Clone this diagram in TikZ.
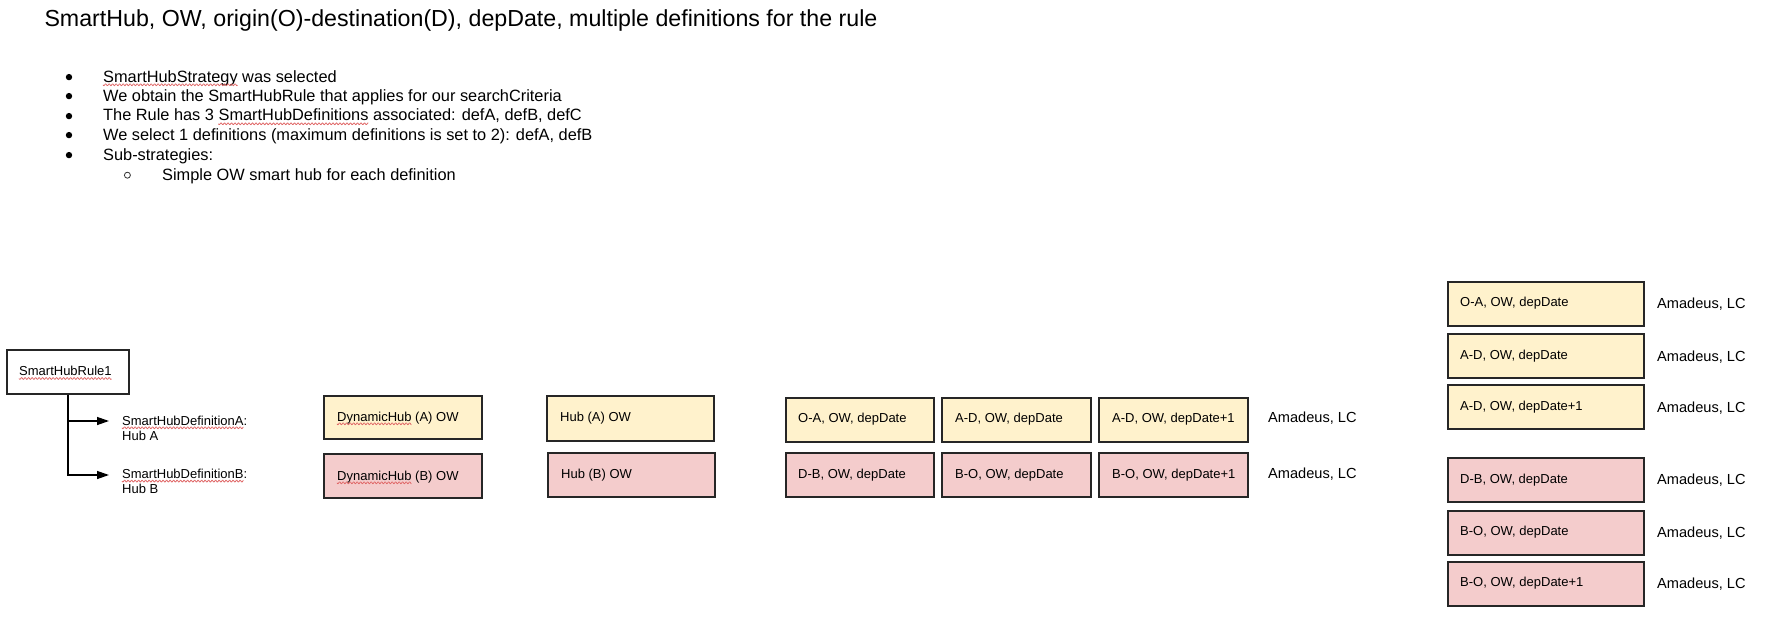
\documentclass[tikz,border=0pt]{standalone}
\usepackage{fontspec}
\setmainfont{Liberation Sans}
\usetikzlibrary{arrows.meta}
\definecolor{lyel}{HTML}{FFF2CC}
\definecolor{lred}{HTML}{F4CCCC}
\definecolor{wavec}{HTML}{E06666}
% #1 node, #2 x offset from node start, #3 length of the wavy underline
\newcommand\wavyat[3]{%
  \draw[spellwave, shift={(#1.base west)}, xshift=#2pt, yshift=-2.8pt]
    plot[domain=0:#3, samples=260] (\x,{0.9*sin(\x*102.86)});}
\begin{document}
\begin{tikzpicture}[x=1pt,y=-1pt,
  box/.style={draw=black!85, line width=1.2pt, inner sep=0pt, minimum height=44pt},
  yelbox/.style={box, fill=lyel},
  redbox/.style={box, fill=lred},
  txt/.style={anchor=base west, inner sep=0pt, font=\fontsize{13}{15.5}\selectfont},
  amad/.style={anchor=base west, inner sep=0pt, font=\fontsize{14.6}{17}\selectfont},
  bul/.style={anchor=base west, inner sep=0pt, font=\fontsize{16.35}{19}\selectfont},
  conn/.style={line width=1.3pt, black},
  arr/.style={conn, -{Triangle[length=12pt,width=8pt]}},
  spellwave/.style={draw=wavec, line width=0.75pt}
]
\useasboundingbox[fill=white] (0,0) rectangle (1778,626);

% title
\node[anchor=base west, inner sep=0pt, font=\fontsize{23.2}{27}\selectfont] (title) at (44.3,26.7)
  {SmartHub, OW, origin(O)-destination(D), depDate, multiple definitions for the rule};

% bullets
\foreach \yy in {82,101,121,140,160} {
  \fill (69,\yy-4.9) circle[radius=3.2];
}
\node[bul] (b1) at (103,82) {SmartHubStrategy was selected};
\node[bul] (b2) at (103,101) {We obtain the SmartHubRule that applies for our searchCriteria};
\node[bul] (b3) at (103,121) {The Rule has 3 SmartHubDefinitions associated: defA, defB, defC};
\node[bul] (b4) at (103,140) {We select 1 definitions (maximum definitions is set to 2): defA, defB};
\node[bul] (b5) at (103,160) {Sub-strategies:};
\draw[line width=0.8pt, black!80] (127.4,175.2) circle[radius=3];
\node[bul] (b6) at (162,180) {Simple OW smart hub for each definition};
\wavyat{b1}{0}{134.5}
\wavyat{b3}{115.4}{149.9}

% rule and definitions
\node[box, minimum width=122pt] (rule) at (68,372) {};
\node[txt] (rulet) at (19,375.7) {SmartHubRule1};
\wavyat{rulet}{0}{92.5}
\coordinate (ta) at (109,421);
\coordinate (tb) at (109,475);
\draw[arr] (rule.south) |- (ta);
\draw[arr] (rule.south) |- (tb);
\node[txt] (defa) at (122,425) {\vtop{\hbox{SmartHubDefinitionA:}\hbox{Hub A}}};
\node[txt] (defb) at (122,478.3) {\vtop{\hbox{SmartHubDefinitionB:}\hbox{Hub B}}};
\wavyat{defa}{0}{121.4}
\wavyat{defb}{0}{121.4}

% dynamic hubs
\node[yelbox, minimum width=158pt, minimum height=43pt] (dha) at (403,417.5) {};
\node[txt] (dhat) at (337,421) {DynamicHub (A) OW};
\node[redbox, minimum width=158pt] (dhb) at (403,476) {};
\node[txt] (dhbt) at (337,480) {DynamicHub (B) OW};
\wavyat{dhat}{0}{74.4}
\wavyat{dhbt}{0}{74.4}

% hubs
\node[yelbox, minimum width=167pt, minimum height=45pt] (hba) at (630.5,418.5) {};
\node[txt] (hbat) at (560,421.7) {Hub (A) OW};
\node[redbox, minimum width=167pt] (hbb) at (631.5,475) {};
\node[txt] (hbbt) at (561,478.7) {Hub (B) OW};

% row A
\node[yelbox, minimum width=148pt] (ra1) at (860,420) {};
\node[yelbox, minimum width=149pt] (ra2) at (1016.5,420) {};
\node[yelbox, minimum width=149pt] (ra3) at (1173.5,420) {};
\node[txt] (ra1t) at (798,422.7) {O-A, OW, depDate};
\node[txt] (ra2t) at (955,422.7) {A-D, OW, depDate};
\node[txt] (ra3t) at (1112,422.7) {A-D, OW, depDate+1};
\node[amad] (ama) at (1268,422.7) {Amadeus, LC};

% row B
\node[redbox, minimum width=148pt] (rb1) at (860,475) {};
\node[redbox, minimum width=149pt] (rb2) at (1016.5,475) {};
\node[redbox, minimum width=149pt] (rb3) at (1173.5,475) {};
\node[txt] (rb1t) at (798,478.3) {D-B, OW, depDate};
\node[txt] (rb2t) at (955,478.3) {B-O, OW, depDate};
\node[txt] (rb3t) at (1112,478.3) {B-O, OW, depDate+1};
\node[amad] (amb) at (1268,478.3) {Amadeus, LC};

% right column
\node[yelbox, minimum width=196pt] (c1) at (1546,304) {};
\node[yelbox, minimum width=196pt] (c2) at (1546,356) {};
\node[yelbox, minimum width=196pt] (c3) at (1546,407) {};
\node[redbox, minimum width=196pt] (c4) at (1546,480) {};
\node[redbox, minimum width=196pt] (c5) at (1546,533) {};
\node[redbox, minimum width=196pt] (c6) at (1546,584) {};
\node[txt] (c1t) at (1460,306.7) {O-A, OW, depDate};
\node[txt] (c2t) at (1460,359.3) {A-D, OW, depDate};
\node[txt] (c3t) at (1460,410.7) {A-D, OW, depDate+1};
\node[txt] (c4t) at (1460,483.3) {D-B, OW, depDate};
\node[txt] (c5t) at (1460,535.7) {B-O, OW, depDate};
\node[txt] (c6t) at (1460,586.7) {B-O, OW, depDate+1};
\node[amad] (am1) at (1657,308.3) {Amadeus, LC};
\node[amad] (am2) at (1657,361) {Amadeus, LC};
\node[amad] (am3) at (1657,412.3) {Amadeus, LC};
\node[amad] (am4) at (1657,484.3) {Amadeus, LC};
\node[amad] (am5) at (1657,537.3) {Amadeus, LC};
\node[amad] (am6) at (1657,588.3) {Amadeus, LC};
\end{tikzpicture}
\end{document}
